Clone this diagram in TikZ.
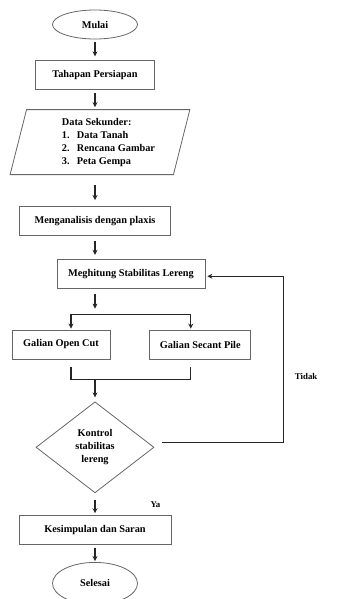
\documentclass[tikz,border=0pt]{standalone}
\usepackage{fontspec}
\setmainfont{Liberation Serif}
\usetikzlibrary{positioning,shapes.geometric,arrows.meta,calc}

\begin{document}
\begin{tikzpicture}[x=1pt, y=1pt,
	arr/.style={draw=black!85, line width=1.1pt, -{Stealth[length=5pt,width=5pt]}},
	line/.style={draw=black!85, line width=1.1pt},
	every node/.style={black, align=center,
					font=\bfseries\fontsize{10.3}{13}\selectfont,
					inner sep=1pt
					},
	proc/.style={draw=black!60, line width=0.8pt, minimum height=29pt},
	term/.style={draw=black!60, line width=0.8pt, ellipse, minimum width=85pt, inner sep=0pt},
	io/.style={draw=black!60, line width=0.8pt, trapezium,
				trapezium left angle=76, trapezium right angle=104,
				trapezium stretches=true, minimum width=180pt, minimum height=65pt, align=left},
	decide/.style={draw=black!60, line width=0.8pt, diamond, minimum width=118pt, minimum height=91pt, inner sep=0pt},
	lbl/.style={font=\bfseries\fontsize{8.8}{10}\selectfont}
]
	\useasboundingbox (0,0) rectangle (344,-599);
	\node (mulai) [term, minimum height=29pt] at (95,-24.5) {Mulai};
	\node (prep) [proc, below=21pt of mulai, minimum width=119pt] {Tahapan Persiapan};
	\node (data) [io, below=19pt of prep, xshift=5pt] {\hspace*{17pt}Data Sekunder:\\
		\hspace*{17pt}\makebox[15pt][l]{1.}Data Tanah\\
		\hspace*{17pt}\makebox[15pt][l]{2.}Rencana Gambar\\
		\hspace*{17pt}\makebox[15pt][l]{3.}Peta Gempa};
	\node (analisis) [proc, below=31pt of data, xshift=-5pt, minimum width=151pt] {Menganalisis dengan plaxis};
	\node (meghitung) [proc, below=23pt of analisis, xshift=36pt, minimum width=148pt] {Meghitung Stabilitas Lereng};
	\node (opencut) [proc, below=41pt of meghitung, xshift=-70pt, minimum width=98pt] {Galian Open Cut};
	\node (secant) [proc, right=39pt of opencut, minimum width=101pt] {Galian Secant Pile};
	\node (kontrol) [decide, below=42pt of opencut, xshift=34pt] {Kontrol\\ stabilitas\\ lereng};
	\node (kesimpulan) [proc, below=22pt of kontrol, minimum width=152pt] {Kesimpulan dan Saran};
	\node (selesai) [term, below=17pt of kesimpulan, minimum height=42pt] {Selesai};

	\coordinate (split) at ($(analisis |- meghitung.south)+(0,-26pt)$);
	\coordinate (brL) at ($(opencut.north)+(10pt,0)$);
	\coordinate (brR) at ($(secant.north)+(-9.5pt,0)$);
	\coordinate (join) at ($(kontrol.north)+(0,22pt)$);
	\coordinate (fb) at ($(meghitung.east)+(78pt,-2.5pt)$);

	\draw[arr, shorten <=3pt, shorten >=4pt] (mulai) -- (prep);
	\draw[arr, shorten <=3pt, shorten >=2pt] (prep) -- (prep |- data.north);
	\draw[arr, shorten <=10pt, shorten >=6pt] (data.south -| analisis) -- (analisis);
	\draw[arr, shorten <=5pt, shorten >=4pt] (analisis) -- (analisis |- meghitung.north);
	\draw[arr, shorten <=5pt, shorten >=6pt] (analisis |- meghitung.south) -- (split);
	\draw[arr, shorten >=1pt] (split) -| (brL);
	\draw[arr, shorten >=1pt] (split) -| (brR);
	\draw[line] ($(brL |- opencut.south)+(0,-8pt)$) |- (join) -| ($(brR |- secant.south)+(0,-8pt)$);
	\draw[arr, shorten >=4pt] (join) -- (kontrol);
	\draw[arr, shorten <=7pt, shorten >=2pt] (kontrol) -- node[lbl, right=54pt] {Ya} (kesimpulan);
	\draw[arr, shorten <=3pt, shorten >=1pt] (kesimpulan) -- (selesai);
	\draw[arr, shorten >=2pt] ($(kontrol.east)+(8pt,4.5pt)$) -| node[lbl, pos=0.7, right=10pt] {Tidak} (fb)
		-- ($(meghitung.east)+(0,-2.5pt)$);
\end{tikzpicture}
\end{document}
